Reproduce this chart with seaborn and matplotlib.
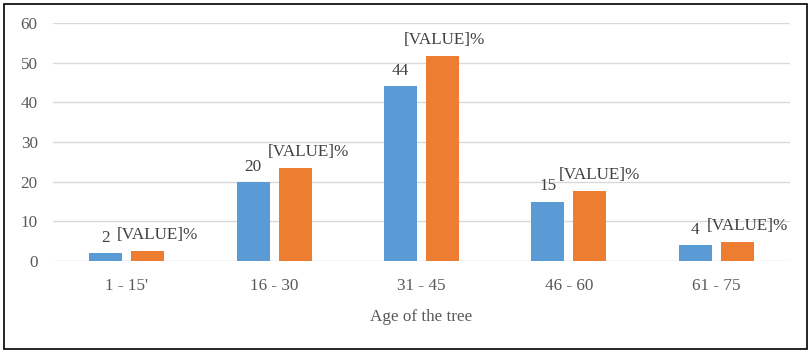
import numpy as np
import pandas as pd
import seaborn as sns
import matplotlib.pyplot as plt
from matplotlib.patches import Rectangle

age_groups = ["1 - 15'", "16 - 30", "31 - 45", "46 - 60", "61 - 75"]
series_a = [2, 20, 44, 15, 4]
series_b = [2.5, 23.4, 51.7, 17.6, 4.8]
label_a = ["2", "20", "44", "15", "4"]
label_b = ["[VALUE]%"] * 5

d = pd.DataFrame({
    "age": age_groups * 2,
    "value": series_a + series_b,
    "series": ["a"] * 5 + ["b"] * 5,
})

sns.set_theme(style="white")
plt.rcParams['font.family'] = ['Liberation Serif', 'DejaVu Serif']
fs = 12.3

f = plt.figure(figsize=(8.12, 3.53), dpi=100)
ax = f.add_axes([53 / 812, 1 - 261 / 353, 737 / 812, 238 / 353])

g = sns.barplot(data=d, x="age", y="value", hue="series", ax=ax,
                palette=["#5B9BD5", "#ED7D31"], width=0.57, gap=0.21,
                saturation=1, legend=False, linewidth=0)

ax.set_ylim(0, 60)
ax.set_xlim(-0.5, 4.5)
ax.set_yticks(range(0, 61, 10))
ax.yaxis.grid(True, color="#D9D9D9", linewidth=1)
ax.set_axisbelow(True)
for s in ax.spines.values():
    s.set_visible(False)
ax.tick_params(axis="both", length=0, labelsize=fs, labelcolor="#595959")
ax.tick_params(axis="x", pad=12)
ax.tick_params(axis="y", pad=11)
ax.set_ylabel("")
ax.set_xlabel("Age of the tree", fontsize=fs, color="#595959", labelpad=11)

# data labels (orange ones nudged right like the original)
shift_b = [10, 13, 2, 10, 10]
for i, bar in enumerate(ax.containers[0]):
    ax.annotate(label_a[i], xy=(bar.get_x() + bar.get_width() / 2, bar.get_height()),
                xytext=(0, 15), textcoords="offset pixels", ha="center", va="center",
                fontsize=fs, color="#404040")
for i, bar in enumerate(ax.containers[1]):
    ax.annotate(label_b[i], xy=(bar.get_x() + bar.get_width() / 2, bar.get_height()),
                xytext=(shift_b[i], 16), textcoords="offset pixels", ha="center", va="center",
                fontsize=fs, color="#404040")

f.patches.append(Rectangle((4 / 812, 4 / 353), 803 / 812, 345 / 353, transform=f.transFigure,
                           fill=False, edgecolor="black", linewidth=1.2))

plt.savefig("out.png", dpi=100)
